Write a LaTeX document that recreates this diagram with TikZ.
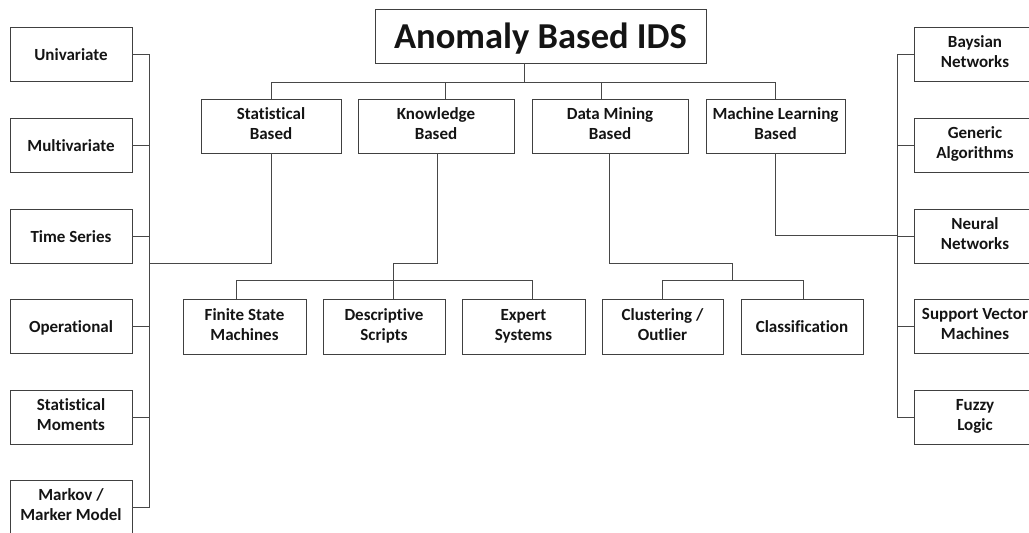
\documentclass[tikz,border=0pt]{standalone}
\usepackage{fontspec}
\setmainfont{Carlito}[RawFeature={-liga;-clig;-dlig}]
\begin{document}
\begin{tikzpicture}[x=1pt,y=-1pt,
  box/.style={draw=black!75,line width=0.9pt,rectangle,inner sep=0pt,
    minimum height=54,align=center,
    font=\fontsize{17}{20}\selectfont\bfseries,text=black!92,
    execute at begin node={\rule{0pt}{16pt}},
    execute at end node={\rule[-4pt]{0pt}{4pt}}},
  titlebox/.style={box,font=\fontsize{36.5}{40}\selectfont\bfseries,
    execute at begin node={\rule{0pt}{30pt}},
    execute at end node={\rule[-6pt]{0pt}{6pt}}},
  conn/.style={draw=black!72,line width=0.9pt}]
\useasboundingbox (0,0) rectangle (1029,533);
\clip (0,0) rectangle (1029,533);

% root
\node[titlebox,minimum width=331] (ids) at (540.5,36) {Anomaly Based IDS};

% main categories
\node[box,minimum width=140] (stat) at (271,126)   {Statistical\\Based};
\node[box,minimum width=156] (know) at (436,126)   {Knowledge\\Based};
\node[box,minimum width=156] (dm)   at (610,126)   {Data Mining\\Based};
\node[box,minimum width=139] (ml)   at (775.5,126) {Machine Learning\\Based};

% statistical techniques
\node[box,minimum width=122] (uni)   at (71,54)  {Univariate};
\node[box,minimum width=122] (multi) at (71,145) {Multivariate};
\node[box,minimum width=122] (ts)    at (71,236) {Time Series};
\node[box,minimum width=122] (oper)  at (71,326) {Operational};
\node[box,minimum width=122] (mom)   at (71,417) {Statistical\\Moments};
\node[box,minimum width=122] (mark)  at (71,507) {Markov /\\Marker Model};

% knowledge techniques
\node[box,minimum width=123,minimum height=55] (fsm)  at (244.5,326.5) {Finite State\\Machines};
\node[box,minimum width=122,minimum height=55] (desc) at (384,326.5)   {Descriptive\\Scripts};
\node[box,minimum width=123,minimum height=55] (exp)  at (523.5,326.5) {Expert\\Systems};

% data mining techniques
\node[box,minimum width=121,minimum height=55] (clu) at (662.5,326.5) {Clustering /\\Outlier};
\node[box,minimum width=122,minimum height=55] (cla) at (802,326.5)   {Classification};

% machine learning techniques
\node[box,minimum width=122] (bay) at (975,54)  {Baysian\\Networks};
\node[box,minimum width=122] (gen) at (975,145) {Generic\\Algorithms};
\node[box,minimum width=122] (nn)  at (975,236) {Neural\\Networks};
\node[box,minimum width=122] (svm) at (975,326) {Support Vector\\Machines};
\node[box,minimum width=122] (fuz) at (975,417) {Fuzzy\\Logic};

% bus positions
\coordinate (topbus) at (524,82);
\coordinate (lb) at (149,263);
\coordinate (kb) at (393,263);
\coordinate (db) at (732,263);
\coordinate (rb) at (897,235);

% root to categories
\draw[conn] (ids.south -| topbus) -- (topbus);
\draw[conn] (stat.north) -- (stat.north |- topbus) -- (ml.north |- topbus) -- (ml.north);
\draw[conn] ([xshift=9]know.north) -- ([xshift=9]know.north |- topbus);
\draw[conn] ([xshift=-9]dm.north) -- ([xshift=-9]dm.north |- topbus);

% statistical branch
\draw[conn] (stat.south) |- (lb);
\draw[conn] (uni.east) -- (uni.east -| lb) -- (mark.east -| lb) -- (mark.east);
\draw[conn] (multi.east) -- (multi.east -| lb);
\draw[conn] (ts.east) -- (ts.east -| lb);
\draw[conn] (oper.east) -- (oper.east -| lb);
\draw[conn] (mom.east) -- (mom.east -| lb);

% knowledge branch
\draw[conn] ([xshift=1]know.south) |- (kb) -- ([xshift=9]desc.north);
\draw[conn] ([xshift=-8.5]fsm.north) -- ++(0,-18) -| ([xshift=8.5]exp.north);

% data mining branch
\draw[conn] ([xshift=-1]dm.south) |- (db) -- ++(0,18);
\draw[conn] (clu.north) -- ++(0,-18) -| ([xshift=1]cla.north);

% machine learning branch
\draw[conn] (ml.south) |- (rb);
\draw[conn] (bay.west) -- (bay.west -| rb) -- (fuz.west -| rb) -- (fuz.west);
\draw[conn] (gen.west) -- (gen.west -| rb);
\draw[conn] (nn.west) -- (nn.west -| rb);
\draw[conn] (svm.west) -- (svm.west -| rb);
\end{tikzpicture}
\end{document}
